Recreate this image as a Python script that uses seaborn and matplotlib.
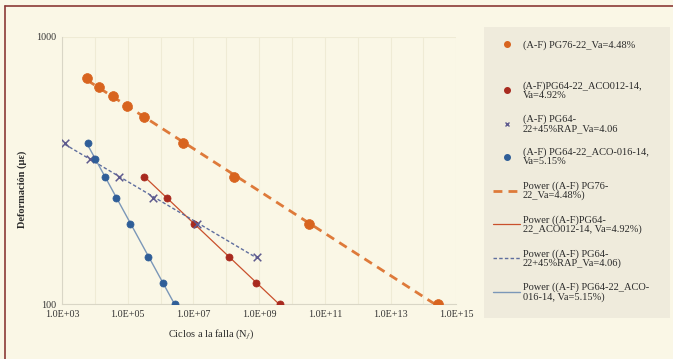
import numpy as np
import pandas as pd
import matplotlib
matplotlib.use("Agg")
import matplotlib.pyplot as plt
from matplotlib.lines import Line2D
from matplotlib.patches import Rectangle
from matplotlib.ticker import FixedLocator, FuncFormatter, NullFormatter
import seaborn as sns

# Fatigue data: cycles to failure (Nf) vs. strain (µε)
pg76_cycles = [5.8e3, 1.35e4, 3.6e4, 9.5e4, 3.2e5, 4.9e6, 1.7e8, 3.2e10, 2.7e14]
pg76_strain = [700, 650, 600, 550, 500, 400, 300, 200, 100]

aco012_cycles = [3.2e5, 1.6e6, 1.05e7, 1.2e8, 8.2e8, 4.2e9]
aco012_strain = [300, 250, 200, 150, 120, 100]

rap_cycles = [1.2e3, 7.0e3, 5.5e4, 5.9e5, 1.3e7, 8.9e8]
rap_strain = [400, 350, 300, 250, 200, 150]

aco016_cycles = [6.2e3, 1.0e4, 2.0e4, 4.5e4, 1.2e5, 4.2e5, 1.2e6, 2.8e6]
aco016_strain = [400, 350, 300, 250, 200, 150, 120, 100]

series_labels = [
    "(A-F) PG76-22_Va=4.48%",
    "(A-F)PG64-22_ACO012-14,\nVa=4.92%",
    "(A-F) PG64-\n22+45%RAP_Va=4.06",
    "(A-F) PG64-22_ACO-016-14,\nVa=5.15%",
]
trend_labels = [
    "Power ((A-F) PG76-\n22_Va=4.48%)",
    "Power ((A-F)PG64-\n22_ACO012-14, Va=4.92%)",
    "Power ((A-F) PG64-\n22+45%RAP_Va=4.06)",
    "Power ((A-F) PG64-22_ACO-\n016-14, Va=5.15%)",
]
x_label = "Ciclos a la falla (N$_f$)"
y_label = "Deformación (µε)"

BG = "#FAF7E6"
LEG_BG = "#EFEBDC"
sns.set_theme(style="white")
plt.rcParams["font.family"] = ["Liberation Serif", "DejaVu Serif"]
plt.rcParams["mathtext.fontset"] = "stix"

W, H = 673, 359
fig = plt.figure(figsize=(W / 100, H / 100), dpi=100, facecolor=BG)
ax = fig.add_axes([0.092, 0.153, 0.586, 0.744])
ax.set_facecolor(BG)

styles = [
    dict(color="#D8641F", marker="o", s=50, line_color="#DE7A3A", ls=(0, (3.2, 2.2)), lw=2.0),
    dict(color="#A82A1F", marker="o", s=26, line_color="#C9502C", ls="-", lw=0.9),
    dict(color="#5E5A8E", marker="x", s=30, line_color="#5F6E9E", ls=(0, (2.5, 1.6)), lw=1.0),
    dict(color="#2F5E98", marker="o", s=26, line_color="#7B97B8", ls="-", lw=1.0),
]
datasets = [
    (pg76_cycles, pg76_strain),
    (aco012_cycles, aco012_strain),
    (rap_cycles, rap_strain),
    (aco016_cycles, aco016_strain),
]

ax.set_xscale("log")
ax.set_yscale("log")

point_handles, trend_handles = [], []
for (cx, sy), st in zip(datasets, styles):
    cx = np.asarray(cx, dtype=float)
    sy = np.asarray(sy, dtype=float)
    # power-law trend line: log(strain) = a*log(N) + b
    a, b = np.polyfit(np.log10(cx), np.log10(sy), 1)
    fx = np.geomspace(cx.min(), cx.max(), 60)
    fy = 10 ** (a * np.log10(fx) + b)
    fit_df = pd.DataFrame({"N": fx, "e": fy})
    sns.lineplot(data=fit_df, x="N", y="e", ax=ax, color=st["line_color"],
                 linestyle=st["ls"], linewidth=st["lw"], zorder=2)
    pts_df = pd.DataFrame({"N": cx, "e": sy})
    if st["marker"] == "x":
        sns.scatterplot(data=pts_df, x="N", y="e", ax=ax, marker="x",
                        color=st["color"], s=st["s"], linewidth=1.1, zorder=3)
        point_handles.append(Line2D([], [], ls="none", marker="x", color=st["color"],
                                    markersize=3.5, markeredgewidth=1.0))
    else:
        sns.scatterplot(data=pts_df, x="N", y="e", ax=ax, marker="o",
                        color=st["color"], s=st["s"], edgecolor=st["color"],
                        linewidth=0.5, zorder=3)
        point_handles.append(Line2D([], [], ls="none", marker="o", color=st["color"],
                                    markersize=4.0))
    trend_handles.append(Line2D([], [], color=st["line_color"], linestyle=st["ls"],
                                linewidth=st["lw"]))

ax.set_xlim(1e3, 1e15)
ax.set_ylim(100, 1000)

ax.xaxis.set_major_locator(FixedLocator([10.0 ** k for k in range(3, 16, 2)]))
ax.xaxis.set_minor_locator(FixedLocator([10.0 ** k for k in range(4, 16, 2)]))
ax.xaxis.set_major_formatter(FuncFormatter(lambda v, p: f"{v:.1E}"))
ax.xaxis.set_minor_formatter(NullFormatter())
ax.yaxis.set_major_locator(FixedLocator([100, 1000]))
ax.yaxis.set_minor_locator(FixedLocator([]))
ax.yaxis.set_major_formatter(FuncFormatter(lambda v, p: f"{v:.0f}"))

ax.tick_params(axis="both", which="both", length=0, labelsize=7.2,
               colors="#333333", pad=4)
ax.grid(True, axis="x", which="both", color="#EFEBD5", linewidth=0.8)
ax.grid(True, axis="y", which="major", color="#EFEBD5", linewidth=0.8)

for side in ["top", "right"]:
    ax.spines[side].set_visible(False)
for side in ["left", "bottom"]:
    ax.spines[side].set_color("#D9D6C6")
    ax.spines[side].set_linewidth(0.8)

ax.set_xlabel(x_label, fontsize=7.5, color="#2A2A2A")
ax.set_ylabel(y_label, fontsize=7.5, color="#2A2A2A", fontweight="bold")
ax.xaxis.set_label_coords(0.378, -0.085)
ax.yaxis.set_label_coords(-0.089, 0.43)

# legend panel background
fig.add_artist(Rectangle((484 / W, 1 - 318 / H), 186 / W, 291 / H,
                         transform=fig.transFigure, facecolor=LEG_BG,
                         edgecolor="none", zorder=0.5))

leg_kw = dict(frameon=False, fontsize=7.5, handlelength=2.6, handletextpad=0.25,
              borderpad=0.0, borderaxespad=0.0, bbox_transform=fig.transFigure)

# first entry on its own row, the rest stacked below it
leg_top = fig.legend(point_handles[:1], series_labels[:1], loc="center left",
                     bbox_to_anchor=(493 / W, 1 - 45 / H), **leg_kw)
leg_rest = fig.legend(point_handles[1:] + trend_handles, series_labels[1:] + trend_labels,
                      loc="upper left", bbox_to_anchor=(493 / W, 1 - 81 / H),
                      labelspacing=1.4, **leg_kw)
for lg in (leg_top, leg_rest):
    for t in lg.get_texts():
        t.set_color("#2A2A2A")
        t.set_linespacing(1.02)

# thin maroon frame along the top and left of the figure
fig.add_artist(Line2D([5 / W, 1.0], [1 - 6 / H, 1 - 6 / H],
                      transform=fig.transFigure, color="#8B3A36", linewidth=1.2))
fig.add_artist(Line2D([5 / W, 5 / W], [0.0, 1 - 6 / H],
                      transform=fig.transFigure, color="#8B3A36", linewidth=1.2))

fig.savefig("out.png", dpi=100, facecolor=BG)
